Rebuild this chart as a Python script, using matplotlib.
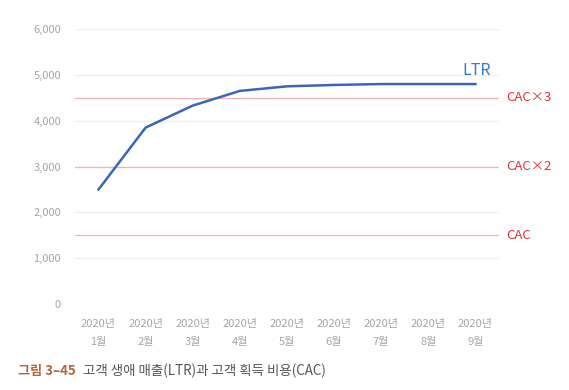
import matplotlib
matplotlib.use("Agg")
import matplotlib.pyplot as plt

plt.rcParams['font.family'] = ['Noto Sans CJK KR', 'DejaVu Sans']

months = ["2020년\n1월", "2020년\n2월", "2020년\n3월", "2020년\n4월", "2020년\n5월",
          "2020년\n6월", "2020년\n7월", "2020년\n8월", "2020년\n9월"]
ltr = [2500, 3850, 4330, 4650, 4750, 4780, 4800, 4800, 4800]
cac_levels = [1500, 3000, 4500]
cac_labels = ["CAC", "CAC×2", "CAC×3"]
yticks = [0, 1000, 2000, 3000, 4000, 5000, 6000]

fig = plt.figure(figsize=(5.69, 3.9), dpi=100)
ax = fig.add_axes([0.1318, 0.2205, 0.745, 0.705])

x = list(range(len(months)))
for yv in yticks:
    ax.axhline(yv, color='#eeeeee', lw=0.9, zorder=1)
for lv in cac_levels:
    ax.axhline(lv, color='#f6b3b3', lw=0.9, zorder=2)
ax.plot(x, ltr, color='#3c66b5', lw=1.8, zorder=3)

ax.set_xlim(-0.5, len(months) - 0.5)
ax.set_ylim(0, 6000)
ax.set_yticks(yticks)
ax.set_yticklabels([f"{v:,}" for v in yticks])
ax.set_xticks(x)
ax.set_xticklabels(months, linespacing=2.0)
ax.tick_params(length=0, labelsize=8, labelcolor='#a5a5a5')
ax.tick_params(axis='y', pad=10)
ax.tick_params(axis='x', pad=11)
for s in ax.spines.values():
    s.set_visible(False)

for lv, lab in zip(cac_levels, cac_labels):
    ax.text(1.017, lv, lab, transform=ax.get_yaxis_transform(), color='#e0303a',
            fontsize=9.5, va='center', ha='left')
ax.text(x[-1] - 0.28, ltr[-1] + 110, "LTR", color='#2f7fc4', fontsize=11.5,
        va='bottom', ha='left')

fig.text(0.032, 0.05, "그림 3–45", color='#b0683a', fontsize=9.5, fontweight='bold',
         va='center', ha='left')
fig.text(0.146, 0.05, "고객 생애 매출(LTR)과 고객 획득 비용(CAC)", color='#555555',
         fontsize=9.7, va='center', ha='left')

fig.savefig("out.png", dpi=100)
